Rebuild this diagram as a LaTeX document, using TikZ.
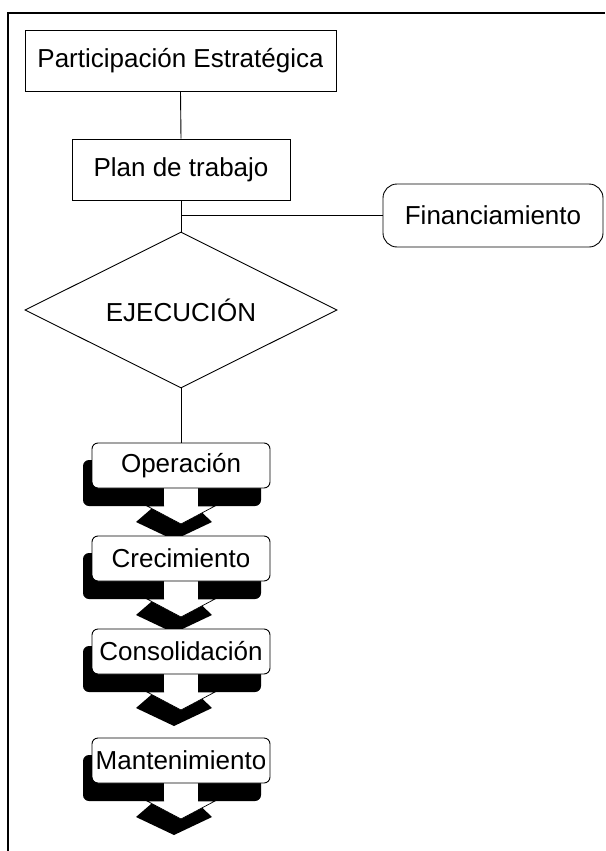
\documentclass[tikz,border=0pt]{standalone}
\usepackage{fontspec}
\setmainfont{Liberation Sans}
\usetikzlibrary{shapes.geometric}
\newcommand\procstep[4]{%
  \fill[black, rounded corners=6pt] (83,{#2+17}) rectangle (261,{#2+63});
  \fill[black] (136,{#2+79}) -- (158,{#2+60}) -- (192,{#2+60}) -- (212,{#2+79}) -- (174,{#2+97}) -- cycle;
  \fill[white] (164,{#2+44}) rectangle (198,{#2+63});
  \filldraw[fill=white, draw=black, line width=0.7pt] (164,{#2+63}) -- (147,{#2+63}) -- (181,{#2+81}) -- (215,{#2+63}) -- (198,{#2+63});
  \node[box, rounded corners=6pt, minimum width=178pt, minimum height=45pt] (#1) at (181,{#2+22.5}) {};
  \begin{scope}
    \clip (92,#2) rectangle (#4,{#2+46});
    \node[lbl] (#1-t) at (#1.center) {#3};
  \end{scope}
}
\begin{document}
\begin{tikzpicture}[x=1pt,y=-1pt,
  box/.style={draw=black, line width=0.9pt, fill=white, inner sep=0pt},
  lbl/.style={font=\fontsize{26}{30}\selectfont, inner sep=0pt},
  conn/.style={draw=black, line width=0.9pt}]
\useasboundingbox (0,0) rectangle (605,851);
\draw[line width=2.2pt] (605,13) -- (8,13) -- (8,851);

\node[box, minimum width=311pt, minimum height=61pt] (part) at (180.5,60.5) {};
\begin{scope}
  \clip (25,29) rectangle (322,92);
  \node[lbl] (part-t) at (part.center) {Participación Estratégica};
\end{scope}

\node[box, lbl, minimum width=218pt, minimum height=61pt] (plan) at (181,169.5) {Plan de trabajo};

\node[box, rounded corners=14pt, minimum width=220pt, minimum height=63pt] (fin) at (493,215.5) {};
\begin{scope}
  \clip (383,184) rectangle (580,247);
  \node[lbl] (fin-t) at (fin.center) {Financiamiento};
\end{scope}

\node[box, lbl, diamond, aspect=2, minimum width=312pt, minimum height=156pt] (ejec) at (181,310) {EJECUCIÓN};

\draw[conn] (part.south) -- (plan.north);
\draw[conn] (plan.south) -- (ejec.north);
\coordinate (br) at (plan.south |- fin.west);
\draw[conn] (br) -- (fin.west);

\procstep{s1}{443}{Operación}{271}
\procstep{s2}{536}{Crecimiento}{248}
\procstep{s3}{629}{Consolidación}{271}
\procstep{s4}{738}{Mantenimiento}{264}

\draw[conn] (ejec.south) -- (s1.north);
\end{tikzpicture}
\end{document}
